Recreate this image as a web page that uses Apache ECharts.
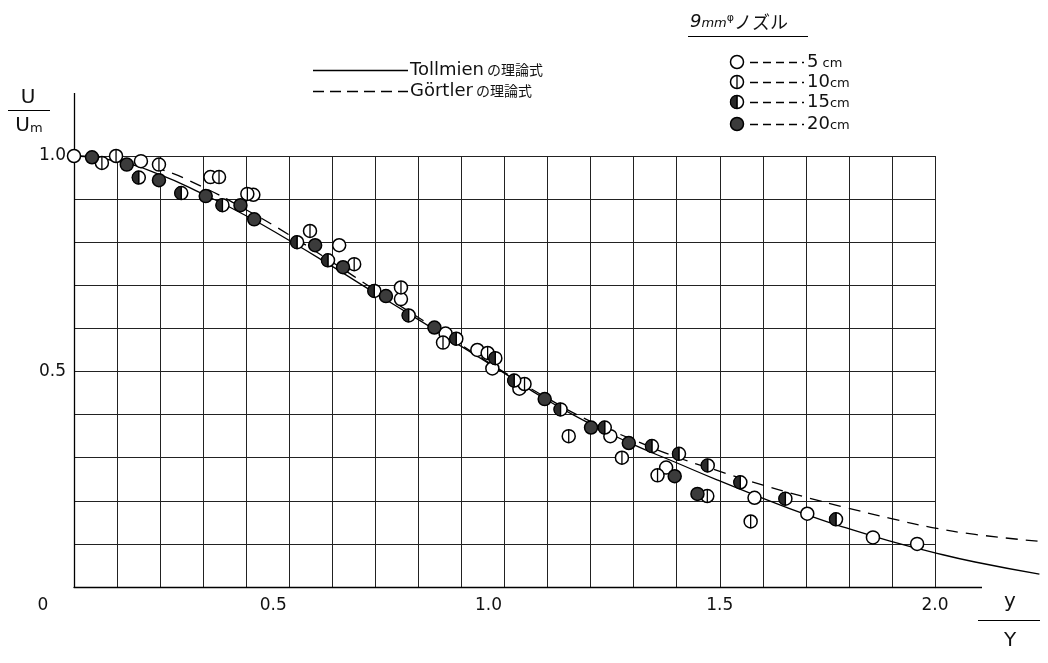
<!DOCTYPE html>
<html><head><meta charset="utf-8">
<script src="https://cdn.jsdelivr.net/npm/echarts@6/dist/echarts.min.js"></script>
<style>html,body{margin:0;padding:0;background:#fff}#c{width:1048px;height:663px}</style>
</head><body><div id="c"></div>
<script>
// ---- data ----
const tollmienX = [0,0.1,0.2,0.3,0.4,0.5,0.6,0.7,0.8,0.9,1.0,1.1,1.2,1.3,1.4,1.5,1.6,1.7,1.8,1.9,2.0,2.1,2.25];
const tollmienY = [1.0,0.988,0.957,0.912,0.862,0.805,0.745,0.683,0.622,0.56,0.498,0.435,0.38,0.332,0.29,0.248,0.208,0.17,0.137,0.107,0.081,0.058,0.03];
const gortlerX = [0,0.1,0.2,0.3,0.4,0.5,0.6,0.7,0.8,0.9,1.0,1.1,1.2,1.3,1.4,1.5,1.6,1.7,1.8,1.9,2.0,2.1,2.26];
const gortlerY = [1.0,0.993,0.97,0.928,0.876,0.818,0.755,0.69,0.627,0.563,0.5,0.44,0.386,0.343,0.303,0.27,0.238,0.21,0.184,0.16,0.138,0.122,0.105];

const pts5cm = [[0.0,1.0],[0.156,0.988],[0.318,0.951],[0.418,0.91],[0.618,0.793],[0.762,0.668],[0.866,0.588],[0.94,0.55],[0.975,0.507],[1.038,0.46],[1.25,0.35],[1.38,0.277],[1.586,0.207],[1.709,0.17],[1.862,0.115],[1.965,0.10]];
const pts10cm = [[0.065,0.984],[0.098,1.0],[0.198,0.98],[0.338,0.951],[0.404,0.912],[0.55,0.826],[0.653,0.749],[0.762,0.695],[0.86,0.567],[0.964,0.543],[1.05,0.471],[1.153,0.35],[1.277,0.30],[1.36,0.259],[1.476,0.211],[1.577,0.152]];
const pts15cm = [[0.151,0.95],[0.25,0.914],[0.346,0.886],[0.52,0.80],[0.592,0.758],[0.70,0.687],[0.78,0.63],[0.891,0.576],[0.982,0.531],[1.026,0.479],[1.134,0.412],[1.237,0.37],[1.347,0.327],[1.41,0.309],[1.477,0.282],[1.553,0.243],[1.658,0.205],[1.776,0.157]];
const pts20cm = [[0.042,0.997],[0.123,0.98],[0.198,0.944],[0.307,0.907],[0.388,0.886],[0.42,0.853],[0.562,0.793],[0.627,0.742],[0.727,0.675],[0.84,0.602],[1.097,0.436],[1.205,0.37],[1.293,0.334],[1.40,0.257],[1.453,0.216]];

const xTickValues = [0, 0.5, 1.0, 1.5, 2.0];
const xTickLabels = ['0', '0.5', '1.0', '1.5', '2.0'];
const yTickValues = [0.5, 1.0];
const yTickLabels = ['0.5', '1.0'];
const nozzleNames = ['5', '10', '15', '20'];
const curveNames = ['Tollmien', 'Görtler'];

// ---- drawing ----
const FONT = "'DejaVu Sans', 'Noto Sans', sans-serif";
const JP = "'Noto Sans CJK JP', sans-serif";
const R = 6.5;
const GRID_LEFT = 74, GRID_TOP = 156, GRID_BOTTOM = 76;
const PX_PER_UNIT = 430.5;          // horizontal scale shared by both grids
const X_MAX_GRID = 2.0, X_MAX_DATA = 2.27;

function markerShapes(kind, cx, cy) {
  const shapes = [{
    type: 'circle', shape: {cx: cx, cy: cy, r: R},
    style: {fill: kind === '20' ? '#3b3b3b' : '#fff', stroke: '#000', lineWidth: 1.5}
  }];
  if (kind === '15') {
    shapes.push({type: 'sector', shape: {cx: cx, cy: cy, r0: 0, r: R, startAngle: Math.PI / 2, endAngle: Math.PI * 1.5, clockwise: true},
      style: {fill: '#2a2a2a', stroke: '#000', lineWidth: 1}});
  }
  if (kind === '10' || kind === '15') {
    shapes.push({type: 'line', shape: {x1: cx, y1: cy - R, x2: cx, y2: cy + R}, style: {stroke: '#000', lineWidth: 1.3}});
  }
  return shapes;
}

function markerSeries(kind, data) {
  return {
    type: 'custom', name: kind + 'cm', data: data, z: 5,
    xAxisIndex: 1, yAxisIndex: 1,
    encode: {x: 0, y: 1},
    renderItem: function (params, api) {
      const p = api.coord([api.value(0), api.value(1)]);
      return {type: 'group', children: markerShapes(kind, p[0], p[1])};
    }
  };
}

function zip(xs, ys) { return xs.map((x, i) => [x, ys[i]]); }

function xLabel(v) {
  for (let i = 0; i < xTickValues.length; i++) {
    if (Math.abs(v - xTickValues[i]) < 1e-6) {
      if (i === 0) return '{z|' + xTickLabels[i] + '}';
      if (i <= 2) return '{s|' + xTickLabels[i] + '}';
      return '{n|' + xTickLabels[i] + '}';
    }
  }
  return '';
}
function yLabel(v) {
  for (let i = 0; i < yTickValues.length; i++) {
    if (Math.abs(v - yTickValues[i]) < 1e-6) return yTickLabels[i];
  }
  return '';
}

const labelStyle = {fontFamily: FONT, fontSize: 17, color: '#111'};

const graphics = [];
// axis extensions
graphics.push({type: 'line', shape: {x1: 74.5, y1: 93, x2: 74.5, y2: 156}, style: {stroke: '#000', lineWidth: 1.3}});
graphics.push({type: 'line', shape: {x1: 935, y1: 587.5, x2: 982, y2: 587.5}, style: {stroke: '#000', lineWidth: 1.3}});
// U / Um
graphics.push({type: 'text', x: 28, y: 98, style: {text: 'U', font: '20px ' + FONT, fill: '#111', textAlign: 'center', textVerticalAlign: 'middle'}});
graphics.push({type: 'line', shape: {x1: 8, y1: 110.5, x2: 50, y2: 110.5}, style: {stroke: '#000', lineWidth: 1.2}});
graphics.push({type: 'text', x: 29, y: 126, style: {text: '{a|U}{b|m}', rich: {a: {font: '20px ' + FONT, fill: '#111'}, b: {font: '13px ' + FONT, fill: '#111', padding: [6, 0, 0, 0]}}, textAlign: 'center', textVerticalAlign: 'middle'}});
// y / Y
graphics.push({type: 'text', x: 1010, y: 602, style: {text: 'y', font: '20px ' + FONT, fill: '#111', textAlign: 'center', textVerticalAlign: 'middle'}});
graphics.push({type: 'line', shape: {x1: 978, y1: 620.5, x2: 1040, y2: 620.5}, style: {stroke: '#000', lineWidth: 1.2}});
graphics.push({type: 'text', x: 1010, y: 641, style: {text: 'Y', font: '20px ' + FONT, fill: '#111', textAlign: 'center', textVerticalAlign: 'middle'}});
// curve legend
graphics.push({type: 'line', shape: {x1: 313, y1: 70.5, x2: 408, y2: 70.5}, style: {stroke: '#000', lineWidth: 1.3}});
graphics.push({type: 'line', shape: {x1: 313, y1: 91.5, x2: 408, y2: 91.5}, style: {stroke: '#000', lineWidth: 1.3, lineDash: [11, 6]}});
[70, 91].forEach(function (yy, i) {
  graphics.push({type: 'text', x: 410, y: yy, style: {
    text: '{a|' + curveNames[i] + '}{b| の理論式}',
    rich: {a: {font: '18px ' + FONT, fill: '#111'}, b: {font: '14px ' + JP, fill: '#111'}},
    textAlign: 'left', textVerticalAlign: 'middle'}});
});
// nozzle legend
graphics.push({type: 'text', x: 690, y: 22, style: {
  text: '{a|9}{b|mm}{c|φ}{d|ノズル}',
  rich: {a: {font: 'italic 18px ' + FONT, fill: '#111'}, b: {font: 'italic 13px ' + FONT, fill: '#111', padding: [4, 0, 0, 0]},
         c: {font: '11px ' + FONT, fill: '#111', padding: [0, 0, 8, 0]}, d: {font: '18px ' + JP, fill: '#111'}},
  textAlign: 'left', textVerticalAlign: 'middle'}});
graphics.push({type: 'line', shape: {x1: 688, y1: 36.5, x2: 808, y2: 36.5}, style: {stroke: '#000', lineWidth: 1.2}});
const legendRows = [62, 82, 102, 124];
nozzleNames.forEach(function (n, i) {
  const yy = legendRows[i];
  markerShapes(n, 737, yy).forEach(s => graphics.push(s));
  graphics.push({type: 'line', shape: {x1: 750, y1: yy + 0.5, x2: 804, y2: yy + 0.5}, style: {stroke: '#000', lineWidth: 1.5, lineDash: [8, 5]}});
  graphics.push({type: 'text', x: 807, y: yy, style: {
    text: '{a|' + n + '}{b|' + (n === '5' ? ' cm' : 'cm') + '}',
    rich: {a: {font: '18px ' + FONT, fill: '#111'}, b: {font: '13px ' + FONT, fill: '#111', padding: [3, 0, 0, 0]}},
    textAlign: 'left', textVerticalAlign: 'middle'}});
});

const gridRightAxes = 1048 - GRID_LEFT - X_MAX_GRID * PX_PER_UNIT;
const gridRightData = 1048 - GRID_LEFT - X_MAX_DATA * PX_PER_UNIT;

const chart = echarts.init(document.getElementById('c'), null, {renderer: 'canvas'});
chart.setOption({
  backgroundColor: '#fff',
  animation: false,
  grid: [
    {left: GRID_LEFT, right: gridRightAxes, top: GRID_TOP, bottom: GRID_BOTTOM, containLabel: false},
    {left: GRID_LEFT, right: gridRightData, top: GRID_TOP, bottom: GRID_BOTTOM, containLabel: false}
  ],
  xAxis: [{
    type: 'value', gridIndex: 0, min: 0, max: X_MAX_GRID, interval: 0.1,
    axisLine: {show: true, lineStyle: {color: '#000', width: 1.3}},
    axisTick: {show: false},
    splitLine: {show: true, lineStyle: {color: '#222', width: 1}},
    axisLabel: {
      show: true, margin: 10, formatter: xLabel, showMinLabel: true, showMaxLabel: true,
      rich: {
        z: Object.assign({padding: [0, 62, 0, 0]}, labelStyle),
        s: Object.assign({padding: [0, 32, 0, 0]}, labelStyle),
        n: Object.assign({}, labelStyle)
      }
    }
  }, {
    type: 'value', gridIndex: 1, min: 0, max: X_MAX_DATA, show: false,
    splitLine: {show: false}
  }],
  yAxis: [{
    type: 'value', gridIndex: 0, min: 0, max: 1.0, interval: 0.1,
    axisLine: {show: true, lineStyle: {color: '#000', width: 1.3}},
    axisTick: {show: false},
    splitLine: {show: true, lineStyle: {color: '#222', width: 1}},
    axisLabel: Object.assign({show: true, margin: 8, formatter: yLabel, showMaxLabel: true}, labelStyle)
  }, {
    type: 'value', gridIndex: 1, min: 0, max: 1.0, show: false,
    splitLine: {show: false}
  }],
  series: [
    {type: 'line', name: 'Tollmien', xAxisIndex: 1, yAxisIndex: 1, data: zip(tollmienX, tollmienY), smooth: true, symbol: 'none', clip: false, z: 3,
      lineStyle: {color: '#000', width: 1.3}},
    {type: 'line', name: 'Görtler', xAxisIndex: 1, yAxisIndex: 1, data: zip(gortlerX, gortlerY), smooth: true, symbol: 'none', clip: false, z: 3,
      lineStyle: {color: '#000', width: 1.3, type: [12, 8]}},
    markerSeries('5', pts5cm),
    markerSeries('10', pts10cm),
    markerSeries('15', pts15cm),
    markerSeries('20', pts20cm)
  ],
  graphic: {elements: graphics}
});
</script>
</body></html>
